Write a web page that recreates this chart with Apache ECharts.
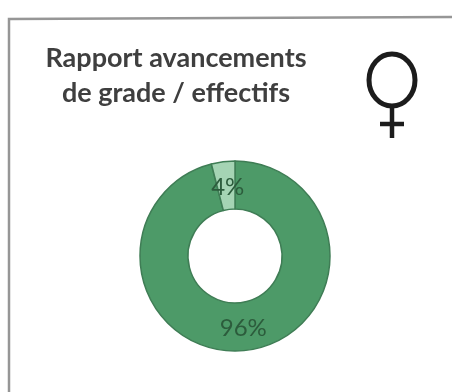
<!DOCTYPE html>
<html>
<head>
<meta charset="utf-8">
<style>html,body{margin:0;padding:0;background:#fff}#chart{width:452px;height:392px}</style>
<script src="https://cdn.jsdelivr.net/npm/echarts@6/dist/echarts.min.js"></script>
</head>
<body>
<div id="chart"></div>
<script>
const categories = ['Avancements', 'Autres'];
const shares = [96, 4];
const sliceColors = ['#4d9a68', '#a5d4b4'];
const titleLines = 'Rapport avancements\nde grade / effectifs';
const labelNudges = [[-1, -1], [2, 5]];

const chart = echarts.init(document.getElementById('chart'));
chart.setOption({
  animation: false,
  backgroundColor: '#ffffff',
  graphic: [
    // card outline
    { type: 'polyline', shape: { points: [[9, 392], [9, 19], [452, 17]] }, style: { stroke: '#969696', lineWidth: 2.5, fill: null } },
    // heading
    { type: 'text', x: 176, y: 76, style: {
        text: titleLines, align: 'center', verticalAlign: 'middle',
        fontFamily: 'Lato', fontSize: 27, fontWeight: 'bold', fill: '#3f3f3f', lineHeight: 35
    } },
    // female sign
    { type: 'ellipse', shape: { cx: 392, cy: 80, rx: 23, ry: 26 }, style: { stroke: '#1c1c1c', lineWidth: 5, fill: null } },
    { type: 'line', shape: { x1: 392, y1: 106, x2: 392, y2: 138 }, style: { stroke: '#1c1c1c', lineWidth: 4.5 } },
    { type: 'line', shape: { x1: 380, y1: 124, x2: 404, y2: 124 }, style: { stroke: '#1c1c1c', lineWidth: 4.5 } }
  ],
  series: [{
    type: 'pie',
    center: [235, 256],
    radius: [47, 95],
    startAngle: 90,
    clockwise: true,
    label: {
      position: 'inside',
      formatter: '{d}%',
      fontFamily: 'Lato',
      fontSize: 24,
      color: '#2c5c3c'
    },
    labelLine: { show: false },
    itemStyle: { borderColor: '#3f7d55', borderWidth: 1.5 },
    data: categories.map((name, i) => ({
      name, value: shares[i],
      itemStyle: { color: sliceColors[i] },
      label: { offset: labelNudges[i] }
    }))
  }]
});
</script>
</body>
</html>
